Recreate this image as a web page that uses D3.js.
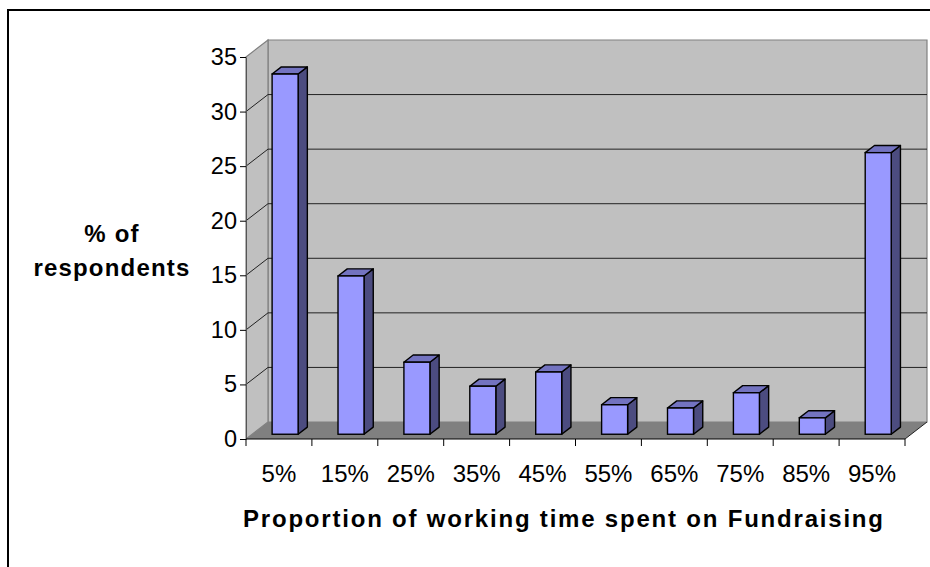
<!DOCTYPE html>
<html>
<head>
<meta charset="utf-8">
<script src="https://cdn.jsdelivr.net/npm/d3@7"></script>
<style>
  html, body { margin: 0; padding: 0; background: #fff; }
  svg { display: block; font-family: "Liberation Sans", Arial, sans-serif; }
</style>
</head>
<body>
<svg id="chart" width="930" height="567"></svg>
<script>
// Share of respondents by proportion of working time spent on fundraising
const categories = ["5%", "15%", "25%", "35%", "45%", "55%", "65%", "75%", "85%", "95%"];
const values = [33, 14.5, 6.6, 4.4, 5.7, 2.7, 2.4, 3.8, 1.5, 25.8];
const yTicks = [0, 5, 10, 15, 20, 25, 30, 35];
const yTitleLines = ["% of", "respondents"];
const xTitle = "Proportion of working time spent on Fundraising";

const svg = d3.select("#chart");

// front plane of the 3D box
const x0 = 246, x1 = 905, yBase = 439, yTop = 57;
// depth of the box (back wall offset)
const depthX = 22, depthY = -17;

const x = d3.scaleBand().domain(categories).range([x0, x1]).paddingInner(0).paddingOuter(0);
const y = d3.scaleLinear().domain([0, 35]).range([yBase, yTop]);

// outer frame
svg.append("rect")
  .attr("x", 8).attr("y", 10).attr("width", 940).attr("height", 580)
  .attr("fill", "#fff").attr("stroke", "#000").attr("stroke-width", 2);

const pts = a => a.map(p => p.join(",")).join(" ");

// back wall
svg.append("polygon")
  .attr("points", pts([[x0 + depthX, y(35) + depthY], [x1 + depthX, y(35) + depthY], [x1 + depthX, y(0) + depthY], [x0 + depthX, y(0) + depthY]]))
  .attr("fill", "#c0c0c0").attr("stroke", "#808080").attr("stroke-width", 1.2);

// left side wall
svg.append("polygon")
  .attr("points", pts([[x0, y(35)], [x0 + depthX, y(35) + depthY], [x0 + depthX, y(0) + depthY], [x0, y(0)]]))
  .attr("fill", "#c0c0c0").attr("stroke", "#808080").attr("stroke-width", 1.2);

// floor
svg.append("polygon")
  .attr("points", pts([[x0, y(0)], [x0 + depthX, y(0) + depthY], [x1 + depthX, y(0) + depthY], [x1, y(0)]]))
  .attr("fill", "#808080").attr("stroke", "none");

// gridlines: back wall horizontal + side wall diagonal
const gridVals = yTicks.filter(v => v > 0 && v < 35);
svg.append("g").selectAll("line.gb").data(gridVals).join("line")
  .attr("x1", x0 + depthX).attr("x2", x1 + depthX)
  .attr("y1", d => y(d) + depthY).attr("y2", d => y(d) + depthY)
  .attr("stroke", "#222").attr("stroke-width", 1);
svg.append("g").selectAll("line.gs").data(gridVals).join("line")
  .attr("x1", x0).attr("x2", x0 + depthX)
  .attr("y1", d => y(d)).attr("y2", d => y(d) + depthY)
  .attr("stroke", "#222").attr("stroke-width", 1);

// floor right diagonal edge
svg.append("line")
  .attr("x1", x1).attr("y1", y(0)).attr("x2", x1 + depthX).attr("y2", y(0) + depthY)
  .attr("stroke", "#222").attr("stroke-width", 1);

// y axis
const yAxis = d3.axisLeft(y).tickValues(yTicks).tickSize(6).tickPadding(3).tickSizeOuter(0);
const gy = svg.append("g").attr("transform", `translate(${x0},0)`).call(yAxis);
gy.select(".domain").attr("stroke", "#555");
gy.selectAll(".tick line").attr("stroke", "#000");
gy.selectAll(".tick text").attr("font-size", 23.5).attr("fill", "#000")
  .attr("font-family", "'Liberation Sans', Arial, sans-serif");

// x axis with ticks at category boundaries
svg.append("line").attr("x1", x0).attr("x2", x1).attr("y1", yBase).attr("y2", yBase)
  .attr("stroke", "#000").attr("stroke-width", 1);
const bounds = categories.map(c => x(c)).concat([x1]);
svg.append("g").selectAll("line").data(bounds).join("line")
  .attr("x1", d => d).attr("x2", d => d).attr("y1", yBase).attr("y2", yBase + 7)
  .attr("stroke", "#000").attr("stroke-width", 1);
svg.append("g").selectAll("text").data(categories).join("text")
  .attr("x", d => x(d) + x.bandwidth() / 2)
  .attr("y", 482)
  .attr("text-anchor", "middle")
  .attr("font-size", 24)
  .text(d => d);

// 3D bars
const barW = 26;
const fFront = 0.28, fDepth = 0.42;
const fx = depthX * fFront, fy = depthY * fFront;
const bx = depthX * fDepth, by = depthY * fDepth;

const bars = svg.append("g").selectAll("g").data(categories.map((c, i) => ({ c, v: values[i] }))).join("g");
bars.each(function(d) {
  const g = d3.select(this);
  const l = x(d.c) + (x.bandwidth() - barW) / 2 + fx;
  const r = l + barW;
  const t = y(d.v) + fy;
  const b = y(0) + fy;
  // side face
  g.append("polygon")
    .attr("points", pts([[r, t], [r + bx, t + by], [r + bx, b + by], [r, b]]))
    .attr("fill", "#4c4c80").attr("stroke", "#000").attr("stroke-width", 1.4).attr("stroke-linejoin", "round");
  // top face
  g.append("polygon")
    .attr("points", pts([[l, t], [l + bx, t + by], [r + bx, t + by], [r, t]]))
    .attr("fill", "#7373c0").attr("stroke", "#000").attr("stroke-width", 1.4).attr("stroke-linejoin", "round");
  // front face
  g.append("rect")
    .attr("x", l).attr("y", t).attr("width", barW).attr("height", b - t)
    .attr("fill", "#9999ff").attr("stroke", "#000").attr("stroke-width", 1.4);
});

// axis titles
svg.append("text")
  .attr("x", 112).attr("y", 242)
  .attr("text-anchor", "middle").attr("font-weight", "bold").attr("font-size", 24)
  .attr("letter-spacing", 1.2)
  .selectAll("tspan").data(yTitleLines).join("tspan")
  .attr("x", 112).attr("dy", (d, i) => i === 0 ? 0 : 34)
  .text(d => d);

svg.append("text")
  .attr("x", 563).attr("y", 527)
  .attr("text-anchor", "middle").attr("font-weight", "bold").attr("font-size", 24)
  .attr("textLength", 640).attr("lengthAdjust", "spacing")
  .text(xTitle);
</script>
</body>
</html>
